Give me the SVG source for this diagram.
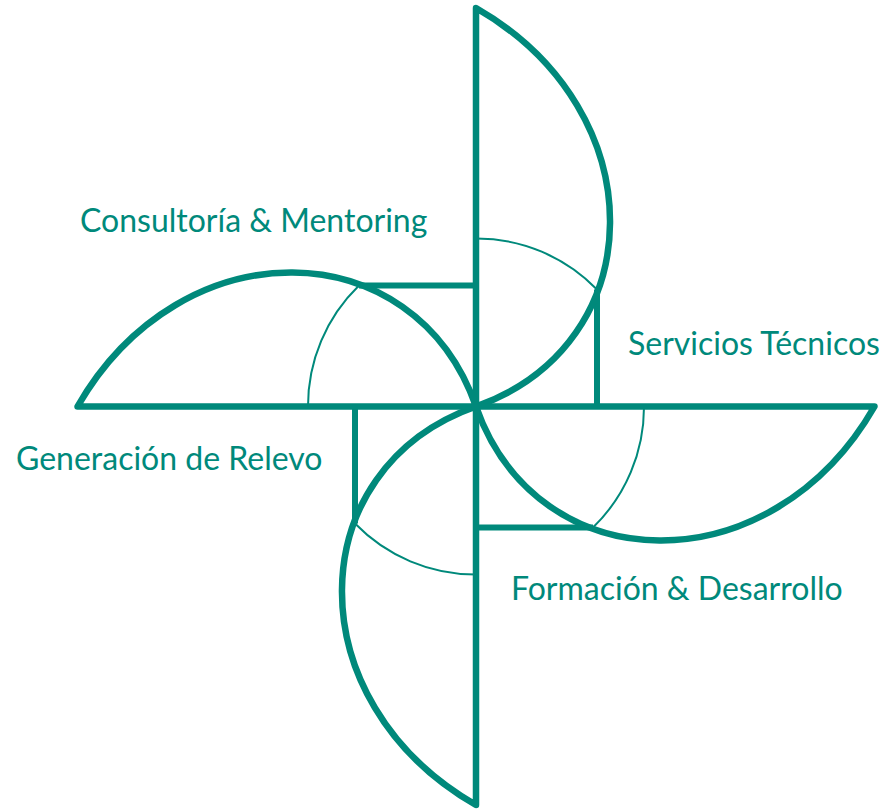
<svg xmlns="http://www.w3.org/2000/svg" width="894" height="811" viewBox="0 0 894 811">
<style>
.bold{fill:none;stroke:#00897b;stroke-width:6.5;stroke-linecap:round;stroke-linejoin:round}
.seg{fill:none;stroke:#00897b;stroke-width:6;stroke-linecap:butt}
.thin{fill:none;stroke:#00897b;stroke-width:2}
.lbl{font-family:Lato,"Open Sans",sans-serif;font-size:32px;fill:#00897b}
</style>
<defs>
<g id="blade">
<path class="seg" d="M597 406.5 V289.5"/>
<path class="thin" d="M476 238.5 A168 168 0 0 1 597 289.5"/>
<path class="bold" d="M476 406.5 V8 C657 112 652.4 344.5 476 406.5"/>
</g>
</defs>
<g id="connectors"></g>
<g id="blade-top"><use href="#blade"/></g>
<g id="blade-right"><use href="#blade" transform="rotate(90 476 406.5)"/></g>
<g id="blade-bottom"><use href="#blade" transform="rotate(180 476 406.5)"/></g>
<g id="blade-left"><use href="#blade" transform="rotate(270 476 406.5)"/></g>
<g id="labels">
<text class="lbl" x="80" y="232">Consultoría &amp; Mentoring</text>
<text class="lbl" x="628" y="355">Servicios Técnicos</text>
<text class="lbl" x="16" y="470">Generación de Relevo</text>
<text class="lbl" x="511" y="600">Formación &amp; Desarrollo</text>
</g>
</svg>
